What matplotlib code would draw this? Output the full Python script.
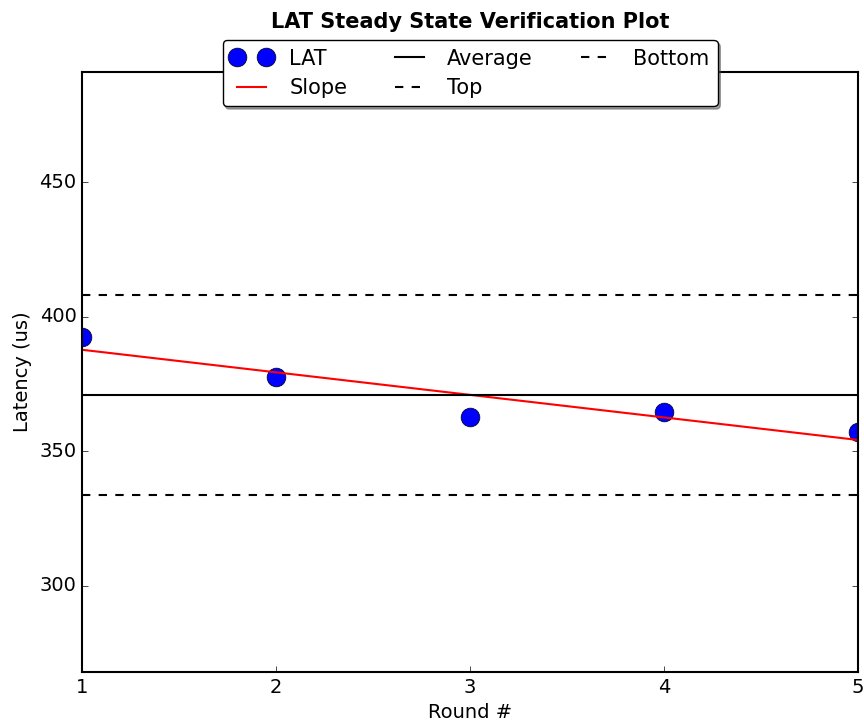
import numpy as np
import matplotlib
matplotlib.use("Agg")
import matplotlib.pyplot as plt

# data
rounds = [1, 2, 3, 4, 5]
latency = [392.6, 377.7, 362.8, 364.7, 357.2]

plt.style.use('classic')
plt.rcParams['font.family'] = ['DejaVu Sans']

x = np.array(rounds)
y = np.array(latency)
avg = y.mean()
m, b = np.polyfit(x, y, 1)

fig = plt.figure(figsize=(8.64, 7.26), dpi=100, facecolor='white')
ax = fig.add_axes([0.095, 0.0744, 0.898, 0.8264])

ax.plot(x, y, 'o', color='blue', markersize=13.5, label='LAT')
ax.plot(x, m * x + b, '-', color='red', linewidth=1.5, label='Slope')
ax.axhline(avg, color='black', linestyle='-', linewidth=1.5, label='Average')
ax.axhline(avg * 1.1, color='black', linestyle='--', linewidth=1.5, label='Top')
ax.axhline(avg * 0.9, color='black', linestyle='--', linewidth=1.5, label='Bottom')

ax.set_xlim(1, 5)
ax.set_ylim(268, 491)
ax.set_xticks([1, 2, 3, 4, 5])
ax.set_yticks([300, 350, 400, 450])
ax.tick_params(labelsize=14)
for s in ax.spines.values():
    s.set_linewidth(1.5)
ax.set_xlabel('Round #', fontsize=14)
ax.set_ylabel('Latency (us)', fontsize=14)
ax.set_title('LAT Steady State Verification Plot', fontsize=15,
             fontweight='bold', pad=32)

ax.legend(loc='upper center', bbox_to_anchor=(0.5, 1.053), ncol=3,
          fancybox=True, shadow=True, fontsize=15, numpoints=2,
          borderaxespad=0, labelspacing=0.45)

fig.savefig('out.png', dpi=100, facecolor='white')
